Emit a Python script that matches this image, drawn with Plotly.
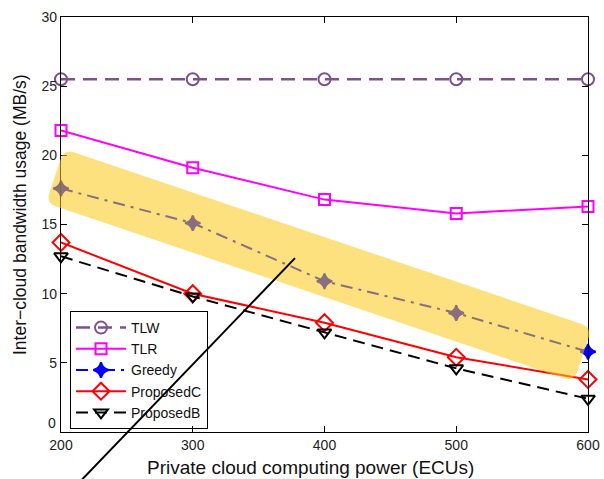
import plotly.graph_objects as go

# Private cloud computing power (ECUs)
ecus = [200, 300, 400, 500, 600]

# Inter-cloud bandwidth usage (MB/s) per scheme
tlw = [25.5, 25.5, 25.5, 25.5, 25.5]
tlr = [21.8, 19.1, 16.8, 15.8, 16.3]
greedy = [17.6, 15.1, 10.9, 8.6, 5.8]
proposed_c = [13.7, 10.0, 7.9, 5.4, 3.8]
proposed_b = [12.7, 9.8, 7.2, 4.6, 2.4]

x_ticks = [200, 300, 400, 500, 600]
y_ticks = [0, 5, 10, 15, 20, 25, 30]
y_tick_text = ["", "5", "10", "15", "20", "25", "30"]  # "0" is placed separately, lifted off the x labels

X_RANGE = (200, 600)
Y_RANGE = (0, 30)

FONT = "Liberation Sans, Arial, Helvetica, sans-serif"
W, H = 604, 479
M = dict(l=61, r=16, t=17, b=47)
PW = W - M["l"] - M["r"]
PH = H - M["t"] - M["b"]

series = [
    ("TLW", tlw, "#80508C", "14px,8px", "circle-open", 12, 2.5),
    ("TLR", tlr, "#FF00FF", "solid", "square-open", 11, 2),
    ("Greedy", greedy, "#0000FF", "12px,6px,3px,6px", "star-diamond", 11, 2),
    ("ProposedC", proposed_c, "#FF0000", "solid", "diamond-open", 13, 2),
    ("ProposedB", proposed_b, "#000000", "12px,7px", "triangle-down-open", 12, 2),
]

fig = go.Figure()
for name, ys, color, dash, sym, size, lw in series:
    fig.add_trace(go.Scatter(
        x=ecus, y=ys, name=name, mode="lines+markers",
        line=dict(color=color, width=lw, dash=dash),
        marker=dict(symbol=sym, size=size, color=color,
                    line=dict(color=color, width=2)),
        cliponaxis=False,
    ))


def to_paper(x, y):
    return ((x - X_RANGE[0]) / (X_RANGE[1] - X_RANGE[0]),
            (y - Y_RANGE[0]) / (Y_RANGE[1] - Y_RANGE[0]))


def rounded_path(corners, radius_px):
    """Closed path through paper-space corners with rounded joins (radius in px)."""
    pts = [(px * PW, py * PH) for px, py in corners]
    n = len(pts)
    segs = []
    for i in range(n):
        p = pts[i]
        a = pts[i - 1]
        b = pts[(i + 1) % n]

        def toward(q):
            dx, dy = q[0] - p[0], q[1] - p[1]
            d = (dx * dx + dy * dy) ** 0.5
            return (p[0] + dx / d * radius_px, p[1] + dy / d * radius_px)

        segs.append((toward(a), p, toward(b)))

    def fmt(q):
        return f"{q[0] / PW:.5f},{q[1] / PH:.5f}"

    path = f"M {fmt(segs[0][0])} Q {fmt(segs[0][1])} {fmt(segs[0][2])}"
    for s_in, c, s_out in segs[1:]:
        path += f" L {fmt(s_in)} Q {fmt(c)} {fmt(s_out)}"
    path += f" L {fmt(segs[0][0])} Z"
    return path


# Highlight band around the Greedy curve (corners in data units)
band_corners = [(202.3, 20.46), (603.0, 7.55), (589.4, 3.65), (188.6, 16.55)]
band_paper = [to_paper(x, y) for x, y in band_corners]
fig.add_shape(type="path", xref="paper", yref="paper",
              path=rounded_path(band_paper, 11),
              fillcolor="rgba(251,200,20,0.55)", line=dict(width=0),
              layer="above")

# Pointer line from the band down past the axis
fig.add_shape(type="line", xref="paper", yref="paper",
              x0=0.444, y0=0.419, x1=0.032, y1=-0.125,
              line=dict(color="black", width=2), layer="above")

axis_common = dict(
    showline=True, linecolor="black", linewidth=1.2, mirror="ticks",
    ticks="inside", ticklen=6, tickwidth=1, tickcolor="black",
    showgrid=False, zeroline=False, automargin=False,
    tickfont=dict(family=FONT, size=14, color="#222"),
)

fig.update_xaxes(range=list(X_RANGE), tickvals=x_ticks, **axis_common)
fig.update_yaxes(range=list(Y_RANGE), tickvals=y_ticks, ticktext=y_tick_text,
                 **axis_common)

# y-axis "0" label, nudged up so it clears the "200" below it
fig.add_annotation(text=str(y_ticks[0]), xref="paper", yref="y",
                   x=0, y=y_ticks[0], xanchor="right", yanchor="middle",
                   xshift=-3, yshift=9, showarrow=False,
                   font=dict(family=FONT, size=14, color="#222"))

fig.add_annotation(text="Private cloud computing power (ECUs)",
                   xref="paper", yref="paper", x=(310 - 61) / PW, y=(432 - 467) / PH,
                   showarrow=False, xanchor="center", yanchor="middle",
                   font=dict(family=FONT, size=19, color="#111"))
fig.add_annotation(text="Inter\u2212cloud bandwidth usage (MB/s)",
                   xref="paper", yref="paper", x=(20 - 61) / PW, y=(432 - 215) / PH,
                   showarrow=False, textangle=-90, xanchor="center", yanchor="middle",
                   font=dict(family=FONT, size=17.5, color="#111"))

fig.update_layout(
    width=W, height=H, margin=M,
    paper_bgcolor="white", plot_bgcolor="white",
    showlegend=True,
    legend=dict(
        x=(70 - 61) / PW, y=(432 - 311) / PH, xanchor="left", yanchor="top",
        bgcolor="rgba(255,255,255,0)", bordercolor="black", borderwidth=1,
        font=dict(family=FONT, size=14, color="#111"),
        itemwidth=50, tracegroupgap=0,
    ),
)

fig.write_html("out.html")
